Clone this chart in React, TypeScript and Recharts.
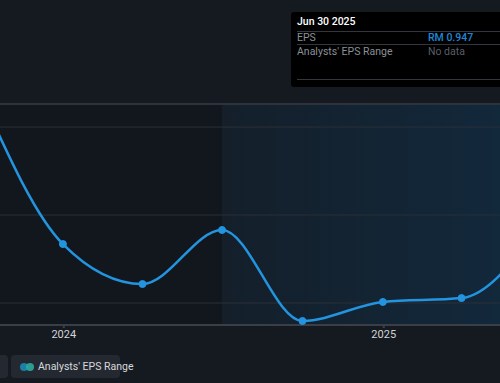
import React from 'react';
import {
  ComposedChart,
  Line,
  XAxis,
  YAxis,
  ReferenceArea,
  ReferenceLine,
} from 'recharts';

// quarter end dates and reported EPS (RM)
const periods = [
  '2023-09-30',
  '2023-12-31',
  '2024-03-31',
  '2024-06-30',
  '2024-09-30',
  '2024-12-31',
  '2025-03-31',
  '2025-06-30',
];
const epsValues = [1.66, 0.835, 0.608, 0.915, 0.398, 0.506, 0.528, 0.947];

// visible window of the chart
const viewStart = '2023-10-20';
const viewEnd = '2025-05-14';
const forecastStart = '2024-06-30';
const yearTicks = ['2024-01-01', '2025-01-01'];
const yTicks = [0.5, 1.0, 1.5];
const yDomain: [number, number] = [0.375, 1.631];

const toTime = (d: string) => new Date(d + 'T00:00:00Z').getTime();

const data = periods.map((p, i) => ({ t: toTime(p), eps: epsValues[i] }));

const FONT = 'Roboto, "Noto Sans", sans-serif';

const App = () => {
  const x0 = toTime(viewStart);
  const x1 = toTime(viewEnd);

  return (
    <div
      style={{
        position: 'relative',
        width: 500,
        height: 383,
        background: '#151a21',
        overflow: 'hidden',
        fontFamily: FONT,
      }}
    >
      <style>{'body{margin:0}'}</style>
      <div style={{ position: 'absolute', left: 0, top: 0 }}>
        <ComposedChart
          width={500}
          height={345}
          data={data}
          margin={{ top: 104, right: 0, bottom: 0, left: 0 }}
        >
          <defs>
            <linearGradient id="shade" x1="0" y1="0" x2="1" y2="0">
              <stop offset="0%" stopColor="#141f2a" />
              <stop offset="100%" stopColor="#12283b" />
            </linearGradient>
          </defs>
          <ReferenceArea
            x1={x0}
            x2={toTime(forecastStart)}
            fill="#12171e"
            fillOpacity={1}
            stroke="none"
            ifOverflow="hidden"
          />
          <ReferenceArea
            x1={toTime(forecastStart)}
            x2={x1}
            fill="url(#shade)"
            fillOpacity={1}
            stroke="none"
            ifOverflow="hidden"
          />
          {yTicks.map((v) => (
            <ReferenceLine key={v} y={v} stroke="#2a3038" strokeWidth={1} />
          ))}
          <ReferenceLine y={yDomain[1]} stroke="#2e333b" strokeWidth={2} />
          <XAxis
            dataKey="t"
            type="number"
            scale="linear"
            domain={[x0, x1]}
            allowDataOverflow
            ticks={yearTicks.map(toTime)}
            tickFormatter={(v) => String(new Date(v).getUTCFullYear())}
            height={20}
            stroke="#3a3f47"
            strokeWidth={2}
            tickSize={3}
            tick={{ fill: '#d2d4d8', fontSize: 11, fontFamily: FONT }}
          />
          <YAxis hide type="number" domain={yDomain} ticks={yTicks} allowDataOverflow />
          <Line
            type="monotone"
            dataKey="eps"
            stroke="#2394df"
            strokeWidth={2.5}
            dot={{ r: 3.5, fill: '#2394df', stroke: '#2394df', strokeWidth: 1 }}
            isAnimationActive={false}
          />
        </ComposedChart>
      </div>

      {/* static tooltip */}
      <div
        style={{
          position: 'absolute',
          left: 291,
          top: 12,
          width: 230,
          height: 75,
          background: '#000000',
          borderRadius: 3,
          fontSize: 10.5,
          color: '#8a8f96',
          boxSizing: 'border-box',
          padding: '0 6px',
        }}
      >
        <div
          style={{
            color: '#ffffff',
            fontWeight: 500,
            height: 18,
            lineHeight: '18px',
            marginTop: 1,
            borderBottom: '1px solid #33373d',
          }}
        >
          Jun 30 2025
        </div>
        <div
          style={{
            display: 'flex',
            height: 12,
            lineHeight: '12px',
            borderBottom: '1px solid #33373d',
          }}
        >
          <span style={{ width: 131 }}>EPS</span>
          <span style={{ color: '#1e88d6', fontWeight: 500 }}>RM 0.947</span>
        </div>
        <div style={{ display: 'flex', height: 14, lineHeight: '14px' }}>
          <span style={{ width: 131 }}>Analysts' EPS Range</span>
          <span style={{ color: '#5a5f66' }}>No data</span>
        </div>
        <div
          style={{
            position: 'absolute',
            left: 6,
            right: 0,
            top: 67,
            borderBottom: '1px solid #33373d',
          }}
        />
      </div>

      {/* legend */}
      <div
        style={{
          position: 'absolute',
          left: -40,
          top: 355,
          width: 48,
          height: 23,
          background: '#242931',
          borderRadius: 4,
        }}
      />
      <div
        style={{
          position: 'absolute',
          left: 11,
          top: 355,
          width: 109,
          height: 23,
          background: '#242931',
          borderRadius: 4,
          display: 'flex',
          alignItems: 'center',
          fontSize: 10.5,
          color: '#d6d8dc',
          whiteSpace: 'nowrap',
        }}
      >
        <svg width={14} height={8} style={{ marginLeft: 9, marginRight: 4, flexShrink: 0 }}>
          <circle cx={4} cy={4} r={4} fill="#1b7fa6" />
          <circle cx={10} cy={4} r={4} fill="#2bb3a0" opacity={0.85} />
        </svg>
        <span>Analysts' EPS Range</span>
      </div>
    </div>
  );
};

export default App;
